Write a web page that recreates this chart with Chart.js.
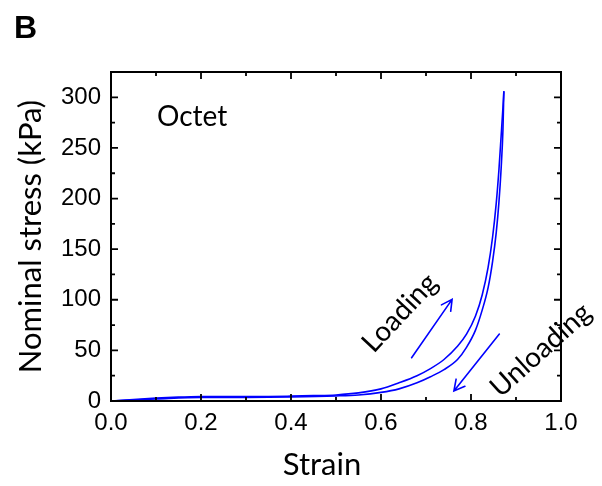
<!DOCTYPE html>
<html><head><meta charset="utf-8">
<script src="https://cdn.jsdelivr.net/npm/chart.js@4.4.0/dist/chart.umd.min.js"></script>
<style>html,body{margin:0;padding:0;background:#fff}#wrap{width:602px;height:486px}</style>
</head><body><div id="wrap"><canvas id="c" width="602" height="486"></canvas></div>
<script>
// ---- data ----
const panelLabel = 'B';
const sampleName = 'Octet';
const xTitle = 'Strain';
const yTitle = 'Nominal stress (kPa)';
const xTickValues = [0, 0.2, 0.4, 0.6, 0.8, 1.0];
const xMinorTicks = [0.1, 0.3, 0.5, 0.7, 0.9];
const yTickValues = [0, 50, 100, 150, 200, 250, 300];
const yMinorTicks = [25, 75, 125, 175, 225, 275];
const xRange = [0, 1];
const yRange = [0, 325];

// loading branch (strain increasing)
const loadingStrain = [0, 0.05, 0.1, 0.15, 0.2, 0.25, 0.3, 0.35, 0.4, 0.45, 0.5, 0.55, 0.6, 0.64, 0.68, 0.71, 0.74, 0.77, 0.79, 0.81, 0.825, 0.838, 0.848, 0.856, 0.862, 0.867, 0.871, 0.873];
const loadingStress = [0, 1.5, 2.8, 3.8, 4.4, 4.5, 4.3, 4.4, 4.8, 5.3, 6, 8, 12, 18, 25, 32, 41, 54, 66, 84, 105, 132, 162, 195, 228, 262, 290, 306];
// unloading branch (from the peak back to zero)
const unloadingStrain = [0.873, 0.871, 0.867, 0.862, 0.856, 0.848, 0.838, 0.825, 0.81, 0.79, 0.77, 0.74, 0.71, 0.68, 0.64, 0.6, 0.55, 0.5, 0.4, 0.3, 0.2, 0.1, 0];
const unloadingStress = [306, 268, 230, 196, 166, 138, 112, 90, 70, 53, 41, 31, 24, 18, 12, 8.5, 6, 5, 4, 3.6, 3.6, 2, 0];

const textLabels = [
  {text: 'Loading', x: 0.642, y: 87, rot: -47},
  {text: 'Unloading', x: 0.955, y: 50.3, rot: -42}
];
const arrows = [
  {from: [0.668, 42.7], to: [0.758, 100.4]},
  {from: [0.863, 66.1], to: [0.762, 9.9]}
];
const samplePos = {x: 0.102, y: 271.7};

// ---- build ----
const toPts = (xs, ys) => xs.map((x, i) => ({x, y: ys[i]}));
const CURVE = '#0000ff';
const TITLE_FONT = 'Lato, "Open Sans", sans-serif';
const TICK_FONT = '"Liberation Sans", Arial, sans-serif';

const decor = {
  id: 'decor',
  afterDatasetsDraw(chart) {
    const {ctx, chartArea: a, scales: {x, y}} = chart;
    ctx.save();
    ctx.strokeStyle = '#000';
    ctx.lineWidth = 2;
    ctx.strokeRect(a.left, a.top, a.right - a.left, a.bottom - a.top);
    ctx.lineWidth = 1.8;
    const tick = (len, vals, horiz) => {
      vals.forEach(v => {
        ctx.beginPath();
        if (horiz) {
          const px = x.getPixelForValue(v);
          ctx.moveTo(px, a.bottom); ctx.lineTo(px, a.bottom - len);
          ctx.moveTo(px, a.top); ctx.lineTo(px, a.top + len);
        } else {
          const py = y.getPixelForValue(v);
          ctx.moveTo(a.left, py); ctx.lineTo(a.left + len, py);
          ctx.moveTo(a.right, py); ctx.lineTo(a.right - len, py);
        }
        ctx.stroke();
      });
    };
    tick(7, xTickValues, true); tick(4, xMinorTicks, true);
    tick(7, yTickValues, false); tick(4, yMinorTicks, false);

    ctx.fillStyle = '#000';
    ctx.font = '28px ' + TITLE_FONT;
    ctx.textAlign = 'left'; ctx.textBaseline = 'alphabetic';
    ctx.fillText(sampleName, x.getPixelForValue(samplePos.x), y.getPixelForValue(samplePos.y));

    ctx.font = '28px ' + TITLE_FONT;
    ctx.textAlign = 'center'; ctx.textBaseline = 'middle';
    textLabels.forEach(t => {
      ctx.save();
      ctx.translate(x.getPixelForValue(t.x), y.getPixelForValue(t.y));
      ctx.rotate(t.rot * Math.PI / 180);
      ctx.fillText(t.text, 0, 0);
      ctx.restore();
    });

    ctx.strokeStyle = CURVE; ctx.lineWidth = 1.6; ctx.lineCap = 'round';
    arrows.forEach(ar => {
      const x0 = x.getPixelForValue(ar.from[0]), y0 = y.getPixelForValue(ar.from[1]);
      const x1 = x.getPixelForValue(ar.to[0]), y1 = y.getPixelForValue(ar.to[1]);
      const ang = Math.atan2(y1 - y0, x1 - x0);
      const hl = 12, ha = 28 * Math.PI / 180;
      ctx.beginPath();
      ctx.moveTo(x0, y0); ctx.lineTo(x1, y1);
      ctx.moveTo(x1 - hl * Math.cos(ang - ha), y1 - hl * Math.sin(ang - ha));
      ctx.lineTo(x1, y1);
      ctx.lineTo(x1 - hl * Math.cos(ang + ha), y1 - hl * Math.sin(ang + ha));
      ctx.stroke();
    });

    ctx.fillStyle = '#000';
    ctx.font = '31px ' + TITLE_FONT;
    ctx.textAlign = 'center'; ctx.textBaseline = 'alphabetic';
    ctx.fillText(xTitle, (a.left + a.right) / 2 - 14, 475);

    ctx.font = 'bold 32px ' + TICK_FONT;
    ctx.textAlign = 'left';
    ctx.fillText(panelLabel, 14, 38);
    ctx.restore();
  }
};

const lineStyle = {showLine: true, borderColor: CURVE, borderWidth: 1.6, pointRadius: 0, tension: 0.4, cubicInterpolationMode: 'monotone', fill: false};

new Chart(document.getElementById('c'), {
  type: 'scatter',
  data: {
    datasets: [
      Object.assign({label: 'Loading', data: toPts(loadingStrain, loadingStress)}, lineStyle),
      Object.assign({label: 'Unloading', data: toPts(unloadingStrain, unloadingStress).reverse()}, lineStyle)
    ]
  },
  options: {
    responsive: false,
    animation: false,
    devicePixelRatio: 1,
    layout: {padding: {left: 0, top: 72, right: 41, bottom: 0}},
    plugins: {legend: {display: false}, tooltip: {enabled: false}},
    scales: {
      x: {
        type: 'linear', min: xRange[0], max: xRange[1],
        grid: {display: false, drawTicks: false},
        border: {display: false},
        afterBuildTicks: s => { s.ticks = xTickValues.map(v => ({value: v})); },
        afterFit: s => { s.height = 85; },
        ticks: {padding: 8, color: '#000', font: {family: TICK_FONT, size: 24}, callback: v => Number(v).toFixed(1), maxRotation: 0, autoSkip: false}
      },
      y: {
        type: 'linear', min: yRange[0], max: yRange[1],
        grid: {display: false, drawTicks: false},
        border: {display: false},
        afterBuildTicks: s => { s.ticks = yTickValues.map(v => ({value: v})); },
        afterFit: s => { s.width = 111; },
        ticks: {padding: 10, color: '#000', font: {family: TICK_FONT, size: 24}, autoSkip: false},
        title: {display: true, text: yTitle, color: '#000', font: {family: TITLE_FONT, size: 31}, padding: {top: 12, bottom: 0}}
      }
    }
  },
  plugins: [decor]
});
</script>
</body></html>
